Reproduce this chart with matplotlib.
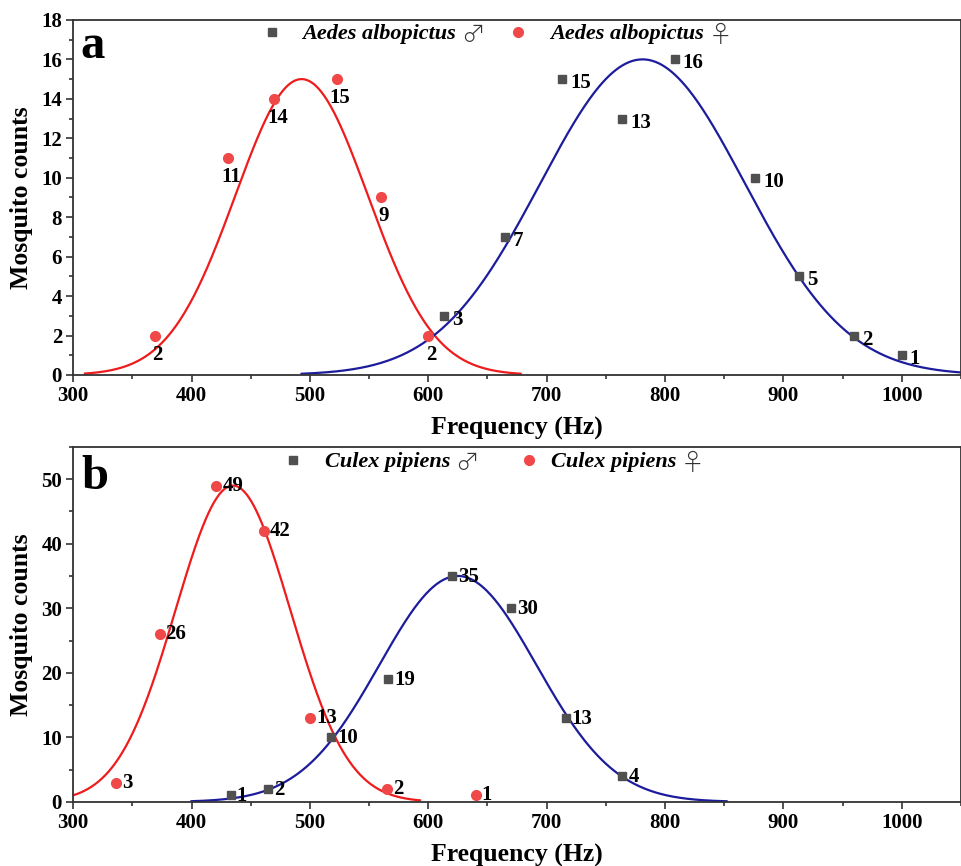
import numpy as np
import matplotlib
matplotlib.use('Agg')
import matplotlib.pyplot as plt
from matplotlib.ticker import MultipleLocator

plt.rcParams['font.family'] = ['Liberation Serif', 'DejaVu Serif']
plt.rcParams['font.weight'] = 'bold'

# ---- data: panel a (Aedes albopictus) ----
aedes_f_freq = [369, 431, 470, 523, 560, 600]
aedes_f_count = [2, 11, 14, 15, 9, 2]
aedes_m_freq = [613, 665, 713, 764, 808, 876, 913, 960, 1000]
aedes_m_count = [3, 7, 15, 13, 16, 10, 5, 2, 1]

# gaussian fits (amplitude, centre, sigma, x range)
aedes_f_fit = (15.0, 493, 56, 310, 678)
aedes_m_fit = (16.0, 781, 86.5, 493, 1050)

# ---- data: panel b (Culex pipiens) ----
culex_f_freq = [336, 373, 421, 461, 500, 565, 640]
culex_f_count = [3, 26, 49, 42, 13, 2, 1]
culex_m_freq = [433, 465, 518, 566, 620, 670, 716, 764]
culex_m_count = [1, 2, 10, 19, 35, 30, 13, 4]

culex_f_fit = (49.0, 435, 48.5, 300, 593)
culex_m_fit = (35.0, 625, 66.3, 400, 852)

RED_PT = '#f04848'
RED_LN = '#ee1c1c'
BLUE_LN = '#1c1c9c'
GREY = '#505050'


def gauss_line(ax, fit, color):
    a, c, s, x0, x1 = fit
    x = np.linspace(x0, x1, 400)
    ax.plot(x, a * np.exp(-(x - c) ** 2 / (2 * s ** 2)), color=color, lw=1.6, zorder=2)


def style_axis(ax, ymax, ymajor, yminor):
    ax.set_xlim(300, 1050)
    ax.set_ylim(0, ymax)
    ax.xaxis.set_major_locator(MultipleLocator(100))
    ax.xaxis.set_minor_locator(MultipleLocator(50))
    ax.yaxis.set_major_locator(MultipleLocator(ymajor))
    ax.yaxis.set_minor_locator(MultipleLocator(yminor))
    ax.tick_params(which='both', direction='out', top=False, right=False,
                   labelsize=15, width=1.2, colors='#333333', labelcolor='black', pad=3)
    ax.tick_params(which='major', length=5)
    ax.tick_params(which='minor', length=3)
    for lab in ax.get_xticklabels() + ax.get_yticklabels():
        lab.set_fontweight('bold')
    for sp in ax.spines.values():
        sp.set_linewidth(1.3)
        sp.set_color('#333333')
    ax.set_xlabel('Frequency (Hz)', fontsize=18.5, fontweight='bold', labelpad=8)
    ax.set_ylabel('Mosquito counts', fontsize=18.5, fontweight='bold', labelpad=6)


def legend_entry(ax, xm, xt, y_mark, y_base, marker, color, ms, name, sym):
    ax.plot([xm], [y_mark], marker, color=color, ms=ms, transform=ax.transAxes,
            clip_on=False, zorder=4)
    t = ax.text(xt, y_base, name, transform=ax.transAxes, fontsize=16,
                fontweight='bold', style='italic', ha='left', va='baseline')
    ax.annotate(sym, xy=(1, 0), xycoords=t, xytext=(5, -4), textcoords='offset pixels',
                ha='left', va='bottom', fontsize=17, fontweight='light',
                family=['Noto Sans CJK JP', 'DejaVu Sans'], color='#333333')


def label_points(ax, xs, ys, offset, ha):
    for x, y in zip(xs, ys):
        ax.annotate(str(y), (x, y), xytext=offset, textcoords='offset pixels',
                    ha=ha, va='center', fontsize=15, fontweight='bold')


fig = plt.figure(figsize=(9.62, 8.66), dpi=100)
ax1 = fig.add_axes([0.076, 0.567, 0.923, 0.410])
ax2 = fig.add_axes([0.076, 0.074, 0.923, 0.410])

# ---------- panel a ----------
gauss_line(ax1, aedes_f_fit, RED_LN)
gauss_line(ax1, aedes_m_fit, BLUE_LN)
ax1.plot(aedes_m_freq, aedes_m_count, 's', color=GREY, ms=6, ls='none', zorder=3)
ax1.plot(aedes_f_freq, aedes_f_count, 'o', color=RED_PT, ms=7, ls='none', zorder=3)
label_points(ax1, aedes_f_freq, aedes_f_count, (3, -19), 'center')
label_points(ax1, aedes_m_freq, aedes_m_count, (8, -4), 'left')
style_axis(ax1, 18, 2, 1)
ax1.text(0.008, 0.893, 'a', transform=ax1.transAxes, fontsize=35, fontweight='bold',
         ha='left', va='baseline')
legend_entry(ax1, 0.224, 0.258, 0.966, 0.946, 's', GREY, 6, 'Aedes albopictus', '\u2642')
legend_entry(ax1, 0.501, 0.537, 0.966, 0.946, 'o', RED_PT, 7, 'Aedes albopictus', '\u2640')

# ---------- panel b ----------
gauss_line(ax2, culex_f_fit, RED_LN)
gauss_line(ax2, culex_m_fit, BLUE_LN)
ax2.plot(culex_m_freq, culex_m_count, 's', color=GREY, ms=6, ls='none', zorder=3)
ax2.plot(culex_f_freq, culex_f_count, 'o', color=RED_PT, ms=7, ls='none', zorder=3)
label_points(ax2, culex_f_freq, culex_f_count, (6, 0), 'left')
label_points(ax2, culex_m_freq, culex_m_count, (6, -1), 'left')
style_axis(ax2, 55, 10, 5)
ax2.text(0.009, 0.882, 'b', transform=ax2.transAxes, fontsize=35, fontweight='bold',
         ha='left', va='baseline')
legend_entry(ax2, 0.248, 0.284, 0.963, 0.944, 's', GREY, 6, 'Culex pipiens', '\u2642')
legend_entry(ax2, 0.513, 0.538, 0.963, 0.944, 'o', RED_PT, 7, 'Culex pipiens', '\u2640')

fig.savefig('out.png', dpi=100)
